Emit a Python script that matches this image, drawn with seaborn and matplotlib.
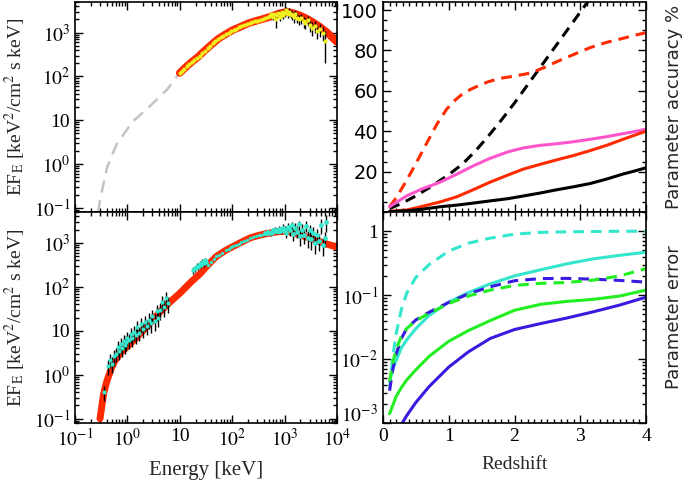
import numpy as np
import pandas as pd
import matplotlib
matplotlib.use("Agg")
import matplotlib.pyplot as plt
import matplotlib.ticker as mticker
import matplotlib.transforms as mtrans
import seaborn as sns

sns.set_theme(style="ticks")
plt.rcParams['font.family'] = ['Liberation Serif', 'DejaVu Serif']
plt.rcParams['mathtext.fontset'] = 'stix'

# ---------------- Left top panel data ----------------
top_model_E = [10, 13, 17, 22, 30, 40, 55, 75, 100, 140, 200, 280, 380, 500, 650, 800, 1000, 1200,
               1500, 2000, 2600, 3400, 4700, 6500, 10000]
top_model_F = [120, 163, 215, 275, 390, 530, 730, 920, 1130, 1340, 1620, 1840, 2040, 2250, 2520, 2750, 2900, 2950,
               2750, 2450, 2100, 1750, 1360, 1000, 610]

extrap_E = [0.275, 0.30, 0.41, 0.51, 0.634, 1.28, 2.37, 3.67, 5.7, 8.85, 10]
extrap_F = [0.0785, 0.148, 0.84, 1.6, 2.95, 9.5, 18, 30, 50, 100, 120]

top_dense_E = [10, 11, 12, 13.5, 15, 17, 19, 21, 24, 27, 30, 34, 38, 43, 48, 54, 60, 68, 76, 85,
               95, 107, 120, 135, 150, 170, 190, 215, 240, 270, 300, 340, 380, 430, 480]
top_dense_F = [120, 135, 148, 170, 190, 215, 240, 263, 300, 345, 390, 445, 500, 575, 645, 720, 790, 850, 930, 1000,
               1090, 1170, 1240, 1310, 1400, 1480, 1580, 1660, 1740, 1810, 1890, 1950, 2040, 2120, 2230]

top_gam_E = [520, 560, 600, 640, 680, 720, 760, 800, 850, 900, 950, 1000, 1080, 1150, 1230, 1300,
             1400, 1500, 1600, 1750, 1900, 2100, 2300, 2500, 2800, 3100, 3400, 3800, 4200, 4700, 5300, 6000]
top_gam_F = [2400, 2600, 2300, 2700, 2000, 2500, 2800, 2300, 2600, 2900, 2500, 2800, 3200, 2600, 3000, 2700,
             2500, 2300, 2600, 2200, 2000, 2100, 1800, 1700, 1900, 1500, 1300, 1400, 1100, 1200, 1000, 650]
top_gam_err = [300, 350, 400, 300, 700, 350, 400, 500, 400, 500, 450, 500, 600, 500, 600, 500,
               550, 600, 600, 550, 500, 500, 500, 500, 500, 450, 450, 400, 400, 400, 350, 450]

# ---------------- Left bottom panel data ----------------
bot_model_E = [0.30, 0.32, 0.35, 0.40, 0.44, 0.50, 0.58, 0.75, 0.98, 1.4, 2.0, 3.0, 4.2, 6.5, 10, 16, 25, 35,
               50, 75, 105, 150, 220, 320, 460, 650, 930, 1300, 1950, 2800, 4100, 6500, 10000]
bot_model_F = [0.10, 0.17, 0.36, 0.68, 0.95, 1.45, 2.1, 3.2, 4.3, 6.5, 10.2, 17, 27, 45, 71, 125, 204, 320,
               490, 670, 830, 1030, 1290, 1470, 1620, 1740, 1820, 1750, 1510, 1320, 1120, 930, 790]

xr_E = [0.36, 0.42, 0.46, 0.50, 0.55, 0.60, 0.65, 0.70, 0.75, 0.80, 0.85, 0.90, 0.95, 1.0, 1.08, 1.15, 1.25, 1.35,
        1.45, 1.55, 1.7, 1.85, 2.0, 2.2, 2.4, 2.6, 2.8, 3.0, 3.3, 3.6, 3.9, 4.2, 4.6, 5.0, 5.5, 6.0]
xr_F = [0.4, 1.6, 2.2, 1.8, 2.6, 3.0, 4.2, 3.5, 5.0, 4.0, 6.0, 4.8, 5.5, 7.0, 6.2, 8.5, 6.8, 9.5,
        8.0, 12, 9.0, 14, 11, 16, 13, 18, 15, 22, 17, 28, 20, 30, 45, 35, 55, 42]
xr_err = [0.15, 0.6, 0.8, 0.7, 1.0, 1.1, 1.6, 1.3, 1.8, 1.5, 2.2, 1.8, 2.0, 2.6, 2.3, 3.2, 2.5, 3.5,
          3.0, 4.5, 3.3, 5.0, 4.0, 6.0, 5.0, 7.0, 6.0, 8.0, 7.0, 11, 8.0, 12, 18, 14, 22, 17]

hx_E = [18, 19.5, 21, 22.5, 24, 25.5, 27, 28.5, 30, 31.5]
hx_F = [240, 260, 300, 280, 330, 310, 370, 340, 400, 360]
hx_err = [40, 40, 50, 45, 50, 50, 55, 55, 60, 55]

mid_E = [35, 40, 45, 50, 57, 65, 75, 85, 95, 105, 120, 135, 150, 170, 190, 220, 250, 280, 320, 360,
         400, 460, 520, 580, 650, 740, 830, 930]
mid_F = [320, 370, 430, 490, 540, 600, 670, 730, 785, 830, 900, 960, 1030, 1110, 1180, 1290, 1350, 1410,
         1470, 1510, 1560, 1620, 1660, 1700, 1740, 1770, 1800, 1820]

bg_E = [420, 480, 540, 600, 660, 720, 780, 850, 920, 1000, 1080, 1170, 1260, 1360, 1470, 1590, 1720,
        1860, 2000, 2170, 2350, 2550, 2750, 3000, 3250, 3500, 3800, 4100, 4500, 4900, 5300, 5800, 6300]
bg_F = [1650, 1800, 1700, 1900, 2000, 1850, 2100, 1900, 2200, 2000, 1700, 2300, 1900, 2500, 1600, 2200, 1800,
        2600, 1400, 2000, 1500, 2400, 1300, 1900, 1200, 1700, 1000, 1500, 1100, 2500, 900, 1300, 3000]
bg_err = [200, 200, 250, 250, 300, 300, 350, 350, 400, 400, 450, 450, 500, 500, 500, 550, 550,
          600, 550, 600, 550, 650, 550, 600, 500, 600, 450, 550, 450, 900, 400, 500, 1200]

# ---------------- Right top panel data (Parameter accuracy %) ----------------
z_rd = [0.1, 0.2, 0.36, 0.5, 0.67, 0.82, 0.97, 1.1, 1.22, 1.35, 1.47, 1.6, 1.78, 2.0, 2.24, 2.45,
        2.64, 2.9, 3.15, 3.4, 3.65, 3.85, 4.0]
acc_red_dash = [2.6, 7, 15.7, 24, 34.4, 43.5, 51.0, 55.5, 58.8, 61.0, 62.8, 64.5, 66.2, 67.3, 68.8, 71.5,
                74.4, 78, 81.4, 84, 86, 87.7, 88.8]
z_bd = [0.1, 0.3, 0.5, 0.75, 1.0, 1.2, 1.4, 1.6, 1.8, 2.0, 2.2, 2.4, 2.6, 2.8, 3.0, 3.2]
acc_black_dash = [1.7, 4.5, 8, 13, 18.5, 23.5, 30, 37.5, 45.5, 54, 63, 72, 81, 90, 99, 108]
z_sol = [0.1, 0.36, 0.6, 0.87, 1.12, 1.37, 1.63, 1.9, 2.13, 2.39, 2.64, 2.9, 3.15, 3.4, 3.65, 3.85, 4.0]
acc_magenta = [2.6, 8.0, 11.5, 14.8, 18.7, 22.8, 26.6, 29.8, 31.7, 33.0, 33.8, 34.8, 36.0, 37.3, 38.8, 40.0, 41.0]
acc_red = [0.3, 1.0, 2.8, 5.0, 7.5, 11.0, 14.8, 18.3, 21.2, 23.6, 25.8, 28.0, 30.4, 33.0, 36.0, 38.3, 40.0]
acc_black = [0.2, 0.6, 1.4, 2.6, 3.4, 4.4, 5.5, 6.6, 7.9, 9.4, 11.0, 12.5, 14.1, 16.3, 18.8, 20.5, 21.9]

# ---------------- Right bottom panel data (Parameter error) ----------------
z_b = [0.1, 0.15, 0.2, 0.28, 0.36, 0.5, 0.7, 1.0, 1.3, 1.63, 2.0, 2.4, 2.8, 3.2, 3.6, 4.0]
err_cyan_dash = [0.0036, 0.011, 0.025, 0.06, 0.107, 0.19, 0.3, 0.49, 0.65, 0.78, 0.9, 0.96, 0.98, 0.99, 1.0, 1.0]
err_cyan = [0.0045, 0.007, 0.0095, 0.015, 0.02, 0.03, 0.048, 0.078, 0.11, 0.15, 0.2, 0.25, 0.31, 0.37, 0.42, 0.47]
err_blue_dash = [0.0032, 0.007, 0.012, 0.021, 0.03, 0.041, 0.054, 0.077, 0.105, 0.135, 0.168, 0.182, 0.183,
                 0.178, 0.17, 0.16]
err_green_dash = [0.0045, 0.009, 0.014, 0.023, 0.03, 0.04, 0.052, 0.074, 0.097, 0.12, 0.142, 0.153, 0.158,
                  0.172, 0.2, 0.26]
err_green = [0.0014, 0.0019, 0.0026, 0.0036, 0.0047, 0.0068, 0.011, 0.019, 0.028, 0.04, 0.058, 0.072, 0.08,
             0.086, 0.097, 0.12]
z_blue = [0.28, 0.36, 0.5, 0.7, 1.0, 1.3, 1.63, 2.0, 2.4, 2.8, 3.2, 3.6, 4.0]
err_blue = [0.00095, 0.0013, 0.0021, 0.0037, 0.0075, 0.013, 0.021, 0.029, 0.036, 0.044, 0.055, 0.07, 0.093]

RED = '#ff2a00'
CYAN = '#33e6cc'
BLUE = '#3a1ae0'
GREEN = '#22ee22'
MAGENTA = '#ff55cc'

fig = plt.figure(figsize=(6.85, 4.92), dpi=100)
W, H = 685.0, 492.0
def pos(x0, y0, x1, y1):
    return [x0 / W, 1 - y1 / H, (x1 - x0) / W, (y1 - y0) / H]

ax1 = fig.add_axes(pos(75, 2, 337, 212))
ax2 = fig.add_axes(pos(75, 212, 337, 423))
ax3 = fig.add_axes(pos(383, 2, 646, 212))
ax4 = fig.add_axes(pos(383, 212, 646, 423))

def line(ax, x, y, color, lw=2.4, dash=None, zorder=2):
    df = pd.DataFrame({'x': x, 'y': y})
    sns.lineplot(data=df, x='x', y='y', ax=ax, color=color, lw=lw, estimator=None,
                 sort=False, zorder=zorder)
    l = ax.lines[-1]
    l.set_solid_capstyle('round')
    l.set_solid_joinstyle('round')
    if dash is not None:
        l.set_dashes(dash)
        l.set_dash_capstyle('butt')
    return l

def points(ax, x, y, err, color, s=10, zorder=4):
    if err is not None:
        ax.errorbar(x, y, yerr=err, fmt='none', ecolor='black', elinewidth=1.0, zorder=zorder - 1)
    df = pd.DataFrame({'x': x, 'y': y})
    sns.scatterplot(data=df, x='x', y='y', ax=ax, color=color, s=s, linewidth=0, zorder=zorder)

# --- top left
ax1.set_xscale('log'); ax1.set_yscale('log')
line(ax1, extrap_E, extrap_F, '#c4c4c4', lw=1.8, dash=(5, 3))
line(ax1, top_model_E, top_model_F, RED, lw=5.5)
points(ax1, top_dense_E, top_dense_F, None, '#f0f020', s=9)
points(ax1, top_gam_E, top_gam_F, top_gam_err, '#f0f020', s=9)

# --- bottom left
ax2.set_xscale('log'); ax2.set_yscale('log')
line(ax2, bot_model_E, bot_model_F, RED, lw=5.0)
points(ax2, xr_E, xr_F, xr_err, CYAN, s=9)
points(ax2, hx_E, hx_F, hx_err, CYAN, s=10)
points(ax2, mid_E, mid_F, None, CYAN, s=6)
points(ax2, bg_E, bg_F, bg_err, CYAN, s=12)

def logfmt(v, p):
    e = int(round(np.log10(v)))
    if e == 1:
        return '10'
    return r'$10^{%d}$' % e

for ax in (ax1, ax2):
    ax.set_xlim(0.1, 1e4)
    ax.set_ylim(0.08, 5000)
    ax.xaxis.set_major_locator(mticker.LogLocator(base=10, numticks=10))
    ax.xaxis.set_minor_locator(mticker.LogLocator(base=10, subs=np.arange(2, 10), numticks=20))
    ax.yaxis.set_major_locator(mticker.LogLocator(base=10, numticks=10))
    ax.yaxis.set_minor_locator(mticker.LogLocator(base=10, subs=np.arange(2, 10), numticks=20))
    ax.yaxis.set_major_formatter(mticker.FuncFormatter(logfmt))
    ax.xaxis.set_major_formatter(mticker.FuncFormatter(logfmt))
    ax.yaxis.set_minor_formatter(mticker.NullFormatter())
    ax.xaxis.set_minor_formatter(mticker.NullFormatter())
    ax.set_ylabel(r'EF$_{\rm E}$ [keV$^2$/cm$^2$ s keV]', fontsize=14, labelpad=4)
    ax.set_xlabel('')

ax1.tick_params(axis='x', labelbottom=False)
ax2.set_xlabel('Energy [keV]', fontsize=15, labelpad=8)

# --- top right
line(ax3, z_bd, acc_black_dash, 'black', lw=2.2, dash=(3.5, 2.3))
line(ax3, z_rd, acc_red_dash, RED, lw=2.2, dash=(3.5, 2.3))
line(ax3, z_sol, acc_magenta, MAGENTA, lw=2.2)
line(ax3, z_sol, acc_red, RED, lw=2.2)
line(ax3, z_sol, acc_black, 'black', lw=2.2)
ax3.set_xlim(0, 4)
ax3.set_ylim(0, 104)
ax3.set_yticks([20, 40, 60, 80, 100])
ax3.yaxis.set_minor_locator(mticker.MultipleLocator(5))
ax3.xaxis.set_minor_locator(mticker.MultipleLocator(0.1))
ax3.tick_params(axis='x', labelbottom=False)
ax3.set_xlabel('')
ax3.yaxis.set_label_position('right')
ax3.set_ylabel('Parameter accuracy %', fontsize=13, family='DejaVu Sans', labelpad=14)

# --- bottom right
ax4.set_yscale('log')
line(ax4, z_b, err_cyan_dash, CYAN, lw=2.2, dash=(3.5, 2.3))
line(ax4, z_b, err_cyan, CYAN, lw=2.2)
line(ax4, z_b, err_blue_dash, BLUE, lw=2.2, dash=(3.5, 2.3))
line(ax4, z_b, err_green_dash, GREEN, lw=2.2, dash=(3.5, 2.3))
line(ax4, z_b, err_green, GREEN, lw=2.2)
line(ax4, z_blue, err_blue, BLUE, lw=2.2)
ax4.set_xlim(0, 4)
ax4.set_ylim(1e-3, 2)
ax4.set_xticks([0, 1, 2, 3, 4])
ax4.xaxis.set_minor_locator(mticker.MultipleLocator(0.1))
ax4.yaxis.set_major_locator(mticker.FixedLocator([1e-3, 1e-2, 1e-1, 1]))
ax4.yaxis.set_minor_locator(mticker.LogLocator(base=10, subs=np.arange(2, 10), numticks=20))
ax4.yaxis.set_major_formatter(mticker.FuncFormatter(
    lambda v, p: '1' if abs(v - 1) < 1e-9 else r'$10^{%d}$' % int(round(np.log10(v)))))
ax4.yaxis.set_minor_formatter(mticker.NullFormatter())
ax4.set_xlabel('Redshift', fontsize=14, labelpad=8)
ax4.yaxis.set_label_position('right')
ax4.set_ylabel('Parameter error', fontsize=13, family='DejaVu Sans', labelpad=14)

for ax in (ax1, ax2, ax3, ax4):
    ax.tick_params(which='both', direction='in', top=True, right=True, colors='black',
                   labelsize=14, width=1.0)
    ax.tick_params(which='major', length=6)
    ax.tick_params(which='minor', length=3)
    for sp in ax.spines.values():
        sp.set_visible(True)
        sp.set_color('black')
        sp.set_linewidth(1.2)
    ax.set_facecolor('white')
    ax.grid(False)

for lab in ax3.get_yticklabels():
    lab.set_fontfamily('DejaVu Sans')

# shift lowest label up a little, as in the reference
fig.canvas.draw()
up = mtrans.ScaledTranslation(0, 7 / 72, fig.dpi_scale_trans)
t = ax4.yaxis.get_major_ticks()[0]
t.label1.set_transform(t.label1.get_transform() + up)

fig.savefig('out.png', dpi=100, facecolor='white')
